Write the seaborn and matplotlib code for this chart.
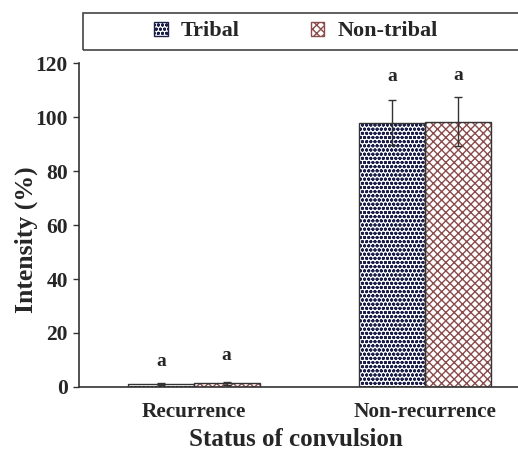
import matplotlib
matplotlib.use("Agg")
import matplotlib.pyplot as plt
from matplotlib.patches import Patch, Rectangle
import seaborn as sns
import pandas as pd
import numpy as np

categories = ["Recurrence", "Non-recurrence"]
groups = ["Tribal", "Non-tribal"]
tribal_values = [1.2, 98.0]
tribal_errors = [0.3, 8.3]
nontribal_values = [1.3, 98.3]
nontribal_errors = [0.4, 9.0]
letters_tribal = ["a", "a"]
letters_nontribal = ["a", "a"]
letter_y_tribal = [9.3, 115.0]
letter_y_nontribal = [11.7, 115.3]
yticks = [0, 20, 40, 60, 80, 100, 120]

df = pd.DataFrame({
    "Status": categories * 2,
    "Group": [groups[0]] * 2 + [groups[1]] * 2,
    "Intensity": tribal_values + nontribal_values,
    "Err": tribal_errors + nontribal_errors,
    "Letter": letters_tribal + letters_nontribal,
    "LetterY": letter_y_tribal + letter_y_nontribal,
})

sns.set_style("white")
plt.rcParams["font.family"] = ["Liberation Serif", "DejaVu Serif"]
plt.rcParams["hatch.linewidth"] = 1.0

fig = plt.figure(figsize=(5.18, 4.51), dpi=100)
ax = fig.add_axes([0.1525, 0.142, 0.86, 0.718])

colors = {"Tribal": "#1c1f4a", "Non-tribal": "#8a4b4b"}
hatches = {"Tribal": "oooo", "Non-tribal": "xxxx"}

sns.barplot(data=df, x="Status", y="Intensity", hue="Group", order=categories,
            hue_order=groups, errorbar=None, width=0.57, ax=ax,
            palette=["white", "white"], legend=False)

for g, cont in zip(groups, ax.containers):
    sub = df[df["Group"] == g].set_index("Status").loc[categories]
    for bar, val, err, let, ly in zip(cont, sub["Intensity"], sub["Err"],
                                      sub["Letter"], sub["LetterY"]):
        bar.set_facecolor("white")
        bar.set_edgecolor(colors[g])
        bar.set_hatch(hatches[g])
        bar.set_linewidth(0.0)
        cx = bar.get_x() + bar.get_width() / 2
        ax.add_patch(Rectangle((bar.get_x(), 0), bar.get_width(), val,
                               fill=False, edgecolor="#333333", linewidth=1.0, zorder=3))
        ax.errorbar(cx, val, yerr=err, color="#333333", capsize=3, elinewidth=1.0,
                    capthick=1.0, zorder=4)
        ax.text(cx, ly, let, ha="center", va="center",
                fontsize=14, fontweight="bold")

ax.set_ylim(0, 120)
ax.set_xlim(-0.496, 1.43)
ax.set_yticks(yticks)
ax.set_yticklabels([str(t) for t in yticks], fontsize=15.5, fontweight="bold")
ax.set_xticks(range(len(categories)))
ax.set_xticklabels(categories, fontsize=15.3, fontweight="bold")
ax.set_xlabel("Status of convulsion", fontsize=18, fontweight="bold")
ax.set_ylabel("Intensity (%)", fontsize=18.5, fontweight="bold")
ax.xaxis.set_label_coords(0.486, -0.128)
ax.yaxis.set_label_coords(-0.093, 0.454)

for s in ["top", "right"]:
    ax.spines[s].set_visible(False)
for s in ["left", "bottom"]:
    ax.spines[s].set_color("#333333")
    ax.spines[s].set_linewidth(1.2)
ax.tick_params(axis="y", which="both", left=True, length=4, width=1, color="#333333", pad=4)
ax.tick_params(axis="x", bottom=False, pad=7)

handles = [Patch(facecolor="white", edgecolor=colors[g], hatch=hatches[g], label=g)
           for g in groups]
fig.patches.append(Rectangle((83 / 518, 1 - 50 / 451), 0.9, 37 / 451,
                             transform=fig.transFigure, fill=False,
                             edgecolor="#444444", linewidth=1.2))
leg = fig.legend(handles=handles, loc="center", ncol=2,
                 bbox_to_anchor=(296 / 518, 1 - 31.5 / 451),
                 frameon=False, handlelength=0.6, handleheight=0.6,
                 handletextpad=0.6, columnspacing=3.2,
                 prop={"weight": "bold", "size": 16})

fig.savefig("out.png", dpi=100)
